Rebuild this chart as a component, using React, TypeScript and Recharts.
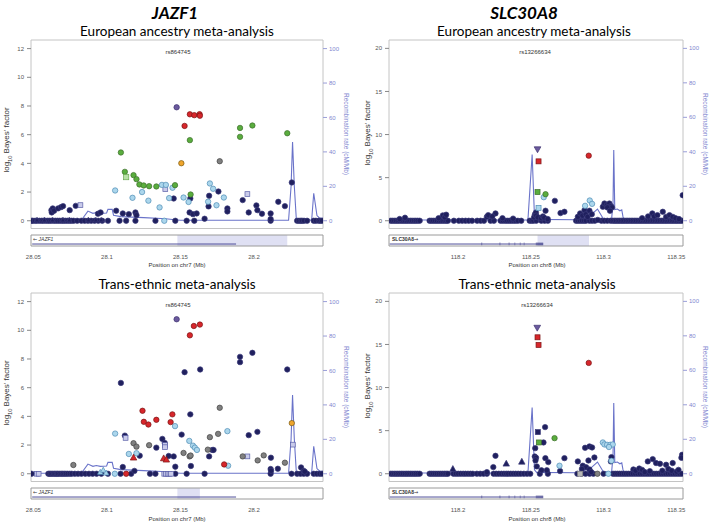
import React from 'react';
import { ComposedChart, Scatter, Line, XAxis, YAxis, ReferenceArea } from 'recharts';

type P = [number, number];

// ---------------- JAZF1 – European ancestry ----------------
const jEurLead: P[] = [[28.1474, 7.91]];
const jEurRed: P[] = [[28.1564, 7.42], [28.1594, 7.36], [28.163, 7.43], [28.1632, 7.32], [28.1528, 6.61]];
const jEurGreen: P[] = [[28.1564, 5.62], [28.1905, 6.47], [28.1989, 6.64], [28.1905, 5.85], [28.2226, 6.1], [28.1095, 4.76], [28.1122, 3.41], [28.1181, 3.18], [28.1201, 2.9], [28.1221, 2.53], [28.125, 2.46], [28.1287, 2.41], [28.1336, 2.39], [28.1463, 2.48], [28.1569, 1.83]];
const jEurGreenSq: P[] = [[28.1131, 3.04]];
const jEurOrange: P[] = [[28.1506, 4.01]];
const jEurGrey: P[] = [[28.1767, 4.15]];
const jEurLight: P[] = [[28.1056, 2.11], [28.1174, 1.6], [28.1239, 2.0], [28.1282, 1.4], [28.1374, 2.5], [28.1401, 2.5], [28.1446, 2.3], [28.1423, 1.58], [28.1358, 0.93], [28.1521, 1.62], [28.1555, 1.31], [28.17, 2.6], [28.1722, 2.23], [28.1688, 1.33], [28.1745, 1.08], [28.1795, 1.62], [28.139, 0]];
const jEurLav: P[] = [[28.082, 1.09], [28.1955, 1.86], [28.1397, 2.2]];
const jEurNavy: P[] = [[28.0623, 0.74], [28.0625, 0.58], [28.0632, 0.86], [28.0641, 0.7], [28.0668, 0.86], [28.0688, 0.95], [28.0702, 1.02], [28.0747, 0.74], [28.0788, 1.04], [28.0939, 0.49], [28.0957, 0.58], [28.1063, 0.7], [28.1108, 0.51], [28.1149, 0.46], [28.1194, 0.58], [28.1201, 0.39], [28.1454, 1.55], [28.1567, 1.55], [28.1562, 0.58], [28.1585, 0.46], [28.161, 0.51], [28.1664, 0.14], [28.1695, 1.74], [28.1691, 1.0], [28.1758, 2.04], [28.1819, 0.86], [28.1819, 0.65], [28.1923, 1.44], [28.1964, 0.58], [28.2016, 1.07], [28.2023, 0.74], [28.2054, 0.49], [28.2113, 0.51], [28.2113, 0.12], [28.2165, 1.32], [28.221, 1.02], [28.2257, 2.67]];
const jEurNavyZero: number[] = [28.0488, 28.0497, 28.0512, 28.0525, 28.0541, 28.0556, 28.0568, 28.0583, 28.0597, 28.0609, 28.0622, 28.0638, 28.0651, 28.0665, 28.0679, 28.0693, 28.0705, 28.0718, 28.0732, 28.0746, 28.0759, 28.0774, 28.0798, 28.0826, 28.0849, 28.0871, 28.0893, 28.0916, 28.0941, 28.0968, 28.1007, 28.1086, 28.1131, 28.1194, 28.133, 28.1465, 28.1542, 28.1594, 28.2113, 28.2293, 28.2306, 28.2318, 28.2327, 28.234, 28.2361, 28.2406, 28.2421, 28.244, 28.2452, 28.2463];
const jEurNavyTri: P[] = [[28.0525, 0.05], [28.0575, 0.05], [28.063, 0.05], [28.0701, 0.05], [28.0744, 0.05], [28.0875, 0.05], [28.0925, 0.05], [28.0961, 0.05]];

// ---------------- JAZF1 – Trans-ethnic ----------------
const jTrLead: P[] = [[28.1474, 10.77]];
const jTrRed: P[] = [[28.1591, 10.3], [28.1632, 10.4], [28.1564, 9.65], [28.1242, 4.39], [28.1336, 3.76], [28.1251, 3.62], [28.1282, 3.43], [28.1445, 4.14], [28.1433, 3.6], [28.1797, 0.65], [28.1131, 0]];
const jTrRedTri: P[] = [[28.1181, 1.12], [28.1386, 1.07], [28.1404, 0.98]];
const jTrNavy: P[] = [[28.1095, 6.33], [28.1528, 7.08], [28.1634, 7.27], [28.1905, 8.15], [28.1905, 7.78], [28.1989, 8.43], [28.2226, 7.27], [28.1567, 4.14], [28.1508, 2.73], [28.1377, 2.43], [28.1393, 2.15], [28.1336, 1.82], [28.1122, 2.66], [28.1223, 1.26], [28.142, 1.24], [28.1454, 1.21], [28.1465, 0.49], [28.1571, 0.54], [28.1695, 1.21], [28.1716, 1.66], [28.1725, 1.66], [28.1964, 2.69], [28.2023, 2.92], [28.2115, 1.12], [28.2113, 0.33], [28.2116, 0.21], [28.2162, 0.35], [28.232, 0.44], [28.2338, 0.2], [28.2345, 0.15], [28.1108, 0.47], [28.1187, 0.2]];
const jTrGrey: P[] = [[28.1767, 4.6], [28.0772, 0.61], [28.1181, 2.13], [28.1201, 1.89], [28.1287, 1.99], [28.1521, 1.45], [28.1562, 1.21], [28.1569, 1.27], [28.17, 2.55], [28.1756, 2.78], [28.1686, 1.68], [28.1923, 1.21], [28.2025, 0.93], [28.2066, 1.28], [28.221, 0.77]];
const jTrLight: P[] = [[28.1056, 2.8], [28.1463, 3.32], [28.156, 2.29], [28.1585, 1.96], [28.1598, 1.82], [28.1612, 1.66], [28.1819, 2.97], [28.1824, 0.56], [28.1149, 1.38], [28.1201, 1.43], [28.1054, 0]];
const jTrLightTri: P[] = [[28.0955, 0.1], [28.0975, 0.25], [28.0995, 0.05]];
const jTrOrange: P[] = [[28.2257, 3.53]];
const jTrLav: P[] = [[28.0525, 0], [28.0536, 0], [28.1127, 2.5], [28.1395, 2.0], [28.1395, 1.85], [28.1955, 1.21], [28.2264, 2.03], [28.139, 0], [28.1402, 0], [28.1413, 0], [28.1425, 0], [28.1436, 0]];
const jTrNavyZero: number[] = [28.0488, 28.0602, 28.0611, 28.062, 28.063, 28.0641, 28.065, 28.066, 28.0668, 28.0679, 28.069, 28.07, 28.0711, 28.0722, 28.0734, 28.0748, 28.0761, 28.0782, 28.0804, 28.0827, 28.0853, 28.0878, 28.0903, 28.093, 28.0962, 28.1007, 28.1093, 28.1165, 28.1293, 28.133, 28.1465, 28.1542, 28.1664, 28.2113, 28.2255, 28.2293, 28.2316, 28.2338, 28.2361, 28.2406, 28.2427, 28.2447, 28.2463];

// ---------------- SLC30A8 – European ancestry ----------------
const sEurLead: P[] = [[118.2546, 8.3]];
const sEurRedSq: P[] = [[118.2553, 6.89]];
const sEurRed: P[] = [[118.2898, 7.55]];
const sEurGreenSq: P[] = [[118.2546, 3.33]];
const sEurGreen: P[] = [[118.2601, 3.08]];
const sEurLight: P[] = [[118.2589, 2.73], [118.2873, 1.73], [118.2905, 2.35], [118.2921, 1.96]];
const sEurLightSq: P[] = [[118.2553, 1.48]];
const sEurNavy: P[] = [[118.1635, 0.35], [118.1598, 0.2], [118.1866, 0.3], [118.1895, 0.62], [118.1908, 0.4], [118.1918, 0.7], [118.2198, 0.46], [118.2207, 0.65], [118.2257, 0.85], [118.2235, 0.5], [118.2305, 0.3], [118.2378, 0.25], [118.2522, 0.4], [118.2528, 0.73], [118.2535, 0.95], [118.2537, 0.6], [118.2548, 0.4], [118.2571, 0.3], [118.2583, 0.5], [118.2592, 0.35], [118.2601, 1.16], [118.2616, 0.2], [118.2665, 2.31], [118.2704, 0.89], [118.2731, 1.04], [118.2823, 0.46], [118.2839, 0.85], [118.2855, 0.6], [118.2869, 1.23], [118.2878, 0.75], [118.289, 0.45], [118.2903, 1.16], [118.2919, 0.75], [118.296, 0.1], [118.2995, 1.62], [118.3006, 2.0], [118.3022, 1.8], [118.304, 2.0], [118.3051, 1.7], [118.3058, 1.55], [118.3026, 1.55], [118.3044, 1.16], [118.3335, 0.85], [118.3347, 0.5], [118.337, 0.65], [118.3407, 1.04], [118.343, 0.45], [118.3453, 0.65], [118.3476, 0.45], [118.3544, 2.96], [118.3265, 0.3], [118.3306, 0.5], [118.3495, 0.3], [118.3518, 0.2]];
const sEurNavyZero: number[] = [118.1536, 118.1548, 118.1561, 118.1573, 118.1585, 118.1597, 118.161, 118.1622, 118.1635, 118.1647, 118.1659, 118.1672, 118.1684, 118.1697, 118.1709, 118.1722, 118.1736, 118.1804, 118.1816, 118.1829, 118.1842, 118.1855, 118.1868, 118.1881, 118.1894, 118.1907, 118.1919, 118.193, 118.1971, 118.2005, 118.2028, 118.2051, 118.2073, 118.2096, 118.2131, 118.2155, 118.2178, 118.2223, 118.2246, 118.2292, 118.2308, 118.2324, 118.2338, 118.2352, 118.2366, 118.2381, 118.2395, 118.2411, 118.2434, 118.2492, 118.2505, 118.2518, 118.2537, 118.2572, 118.2595, 118.2617, 118.2811, 118.2824, 118.2838, 118.2852, 118.2866, 118.2879, 118.2903, 118.2921, 118.294, 118.2985, 118.3005, 118.3026, 118.3048, 118.3063, 118.3075, 118.3086, 118.3098, 118.3109, 118.3121, 118.3132, 118.3143, 118.3155, 118.3166, 118.3178, 118.319, 118.3201, 118.3213, 118.3224, 118.3236, 118.3248, 118.3259, 118.3271, 118.3283, 118.3294, 118.3306, 118.3318, 118.333, 118.3341, 118.3353, 118.3365, 118.3376, 118.3388, 118.34, 118.3411, 118.3423, 118.3434, 118.3446, 118.3458, 118.347, 118.3481, 118.3493, 118.3504, 118.3516, 118.3528, 118.354];

// ---------------- SLC30A8 – Trans-ethnic ----------------
const sTrLead: P[] = [[118.2544, 16.95]];
const sTrRedSq: P[] = [[118.2546, 15.83], [118.2553, 14.94]];
const sTrRed: P[] = [[118.2898, 12.86]];
const sTrGreenSq: P[] = [[118.2555, 3.63]];
const sTrGreen: P[] = [[118.2663, 4.13]];
const sTrNavySq: P[] = [[118.2548, 4.83]];
const sTrNavy: P[] = [[118.2598, 5.41], [118.2587, 3.63], [118.253, 2.97], [118.2527, 2.0], [118.2536, 1.85], [118.2532, 1.55], [118.26, 1.81], [118.262, 1.35], [118.2541, 0.85], [118.2573, 0.4], [118.261, 0.4], [118.2731, 1.81], [118.2701, 0.31], [118.2257, 2.08], [118.2242, 0.77], [118.2198, 0.19], [118.2823, 1.43], [118.2873, 3.01], [118.2903, 3.17], [118.2921, 3.05], [118.2896, 1.54], [118.2937, 1.89], [118.2857, 0.93], [118.288, 0.75], [118.2851, 0.55], [118.2903, 0.5], [118.2915, 0.2], [118.3054, 1.93], [118.305, 1.43], [118.3304, 1.43], [118.3338, 1.7], [118.3361, 1.24], [118.3388, 1.16], [118.343, 1.04], [118.3475, 1.24], [118.354, 2.2], [118.3535, 1.85], [118.3205, 0.5], [118.322, 0.35], [118.3245, 0.6], [118.3265, 0.45], [118.3283, 0.2], [118.3318, 0.3], [118.3404, 0.35], [118.3445, 0.55], [118.3468, 0.35], [118.3502, 0.25], [118.3515, 0.45]];
const sTrNavyTri: P[] = [[118.2331, 1.16], [118.2438, 1.39], [118.1964, 0.54]];
const sTrLight: P[] = [[118.2995, 3.63], [118.3006, 3.4], [118.3024, 3.36], [118.3046, 3.36], [118.3063, 3.4], [118.3037, 3.1], [118.2697, 0.93], [118.3054, 1.5], [118.3033, 0]];
const sTrGreySq: P[] = [[118.2839, 0]];
const sTrGrey: P[] = [[118.2958, 0]];
const sTrNavyZero: number[] = [118.1536, 118.1548, 118.1561, 118.1573, 118.1585, 118.1597, 118.161, 118.1622, 118.1635, 118.1647, 118.1659, 118.1672, 118.1684, 118.1697, 118.1709, 118.1722, 118.1736, 118.1804, 118.1816, 118.1829, 118.1842, 118.1855, 118.1868, 118.1881, 118.1894, 118.1907, 118.1919, 118.193, 118.1968, 118.1985, 118.2001, 118.2018, 118.2035, 118.2051, 118.2068, 118.2085, 118.2101, 118.2129, 118.2152, 118.2175, 118.2198, 118.2244, 118.2262, 118.228, 118.2298, 118.2315, 118.2331, 118.2345, 118.2362, 118.2379, 118.2396, 118.2413, 118.2431, 118.2452, 118.2474, 118.2496, 118.2562, 118.2617, 118.282, 118.2848, 118.2876, 118.2904, 118.293, 118.3, 118.3065, 118.308, 118.3095, 118.311, 118.3125, 118.314, 118.3155, 118.317, 118.3186, 118.3202, 118.3218, 118.3234, 118.325, 118.3266, 118.3282, 118.3298, 118.3314, 118.333, 118.3346, 118.3362, 118.3378, 118.3394, 118.341, 118.3426, 118.3442, 118.3458, 118.3474, 118.349, 118.3506, 118.3522, 118.3538];

// ---------------- Recombination rate (cM/Mb) ----------------
const jazfRecomb: P[] = [[28.0484, 0.3], [28.0826, 0.3], [28.0871, 5.6], [28.0905, 4.3], [28.0928, 4.8], [28.0955, 4.3], [28.0998, 4.5], [28.1007, 6.6], [28.1036, 6.6], [28.1045, 3.2], [28.1095, 2.4], [28.125, 1.8], [28.14, 1.2], [28.146, 0.6], [28.15, 0.3], [28.2235, 0.3], [28.2252, 20], [28.2262, 45.8], [28.2274, 20], [28.2288, 0.4], [28.2392, 0.4], [28.2406, 16], [28.2428, 3], [28.2445, 1.6], [28.2469, 1.4]];
const slcRecomb: P[] = [[118.1525, 0.4], [118.248, 0.4], [118.2509, 38.4], [118.2525, 2.3], [118.254, 0.8], [118.281, 0.6], [118.2845, 1.5], [118.2912, 3.3], [118.2958, 6.8], [118.2997, 1.3], [118.3055, 0.8], [118.3065, 10], [118.307, 41], [118.3077, 6.5], [118.3095, 6.8], [118.3112, 5.8], [118.3125, 6.3], [118.3133, 2.5], [118.314, 0.5], [118.3546, 0.4]];

// ---------------- Axes / gene tracks ----------------
const jazfXTicks = [28.05, 28.1, 28.15, 28.2];
const slcXTicks = [118.2, 118.25, 118.3, 118.35];
const jazfYTicks = [0, 2, 4, 6, 8, 10, 12];
const slcYTicks = [0, 5, 10, 15, 20];
const recombTicks = [0, 20, 40, 60, 80, 100];
const jazfGene: P = [28.0492, 28.1878];
const slcGene: P = [118.153, 118.2585];
const slcExons: P[] = [[118.2159, 118.2166], [118.2284, 118.2291], [118.2347, 118.2354], [118.2387, 118.2393], [118.2424, 118.243], [118.2451, 118.2457], [118.2534, 118.2585]];
const jazfEurHL: P = [28.1479, 28.2226];
const jazfTrHL: P = [28.1479, 28.1632];
const slcEurHL: P = [118.2546, 118.29];

// ---------------- styling ----------------
const NAVY = '#20205e';
const RED = '#d7262b';
const GREEN = '#5aad3e';
const LIGHT = '#abd6ec';
const ORANGE = '#efa52d';
const GREY = '#808080';
const LEAD = '#6b5a9e';
const LAV = '#c9cbea';
const RECOMB = '#6a73c9';

type Kind = 'circle' | 'square' | 'tri' | 'itri';
type Series = { data: P[]; kind: Kind; fill: string; stroke: string; r?: number };

const makeShape = (kind: Kind, fill: string, stroke: string, r: number) => (props: any) => {
  const { cx, cy } = props;
  if (cx == null || cy == null || isNaN(cx) || isNaN(cy)) return <g />;
  const sw = 0.7;
  if (kind === 'square') return <rect x={cx - r} y={cy - r} width={2 * r} height={2 * r} fill={fill} stroke={stroke} strokeWidth={sw} />;
  if (kind === 'tri') return <polygon points={`${cx},${cy - r * 1.25} ${cx - r * 1.15},${cy + r * 0.85} ${cx + r * 1.15},${cy + r * 0.85}`} fill={fill} stroke={stroke} strokeWidth={sw} />;
  if (kind === 'itri') return <polygon points={`${cx},${cy + r * 1.25} ${cx - r * 1.2},${cy - r * 0.85} ${cx + r * 1.2},${cy - r * 0.85}`} fill={fill} stroke={stroke} strokeWidth={sw} />;
  return <circle cx={cx} cy={cy} r={r} fill={fill} stroke={stroke} strokeWidth={sw} />;
};

const zeros = (xs: number[]): P[] => xs.map((x) => [x, 0]);
const toObj = (d: P[]) => d.map(([x, y]) => ({ x, y }));

type PanelProps = {
  left: number; top: number; leftW: number; rightW: number;
  xDomain: P; yDomain: P; yTicks: number[]; xTicks: number[];
  recomb: P[]; series: Series[]; gene: P; exons: P[]; hl?: P;
};

function Panel(p: PanelProps) {
  const k = 100 / p.yTicks[p.yTicks.length - 1];
  const rDomain: P = [p.yDomain[0] * k, p.yDomain[1] * k];
  const recombData = p.recomb.map(([x, rate]) => ({ x, rate }));
  const geneData = [{ x: p.gene[0], g: 0.18 }, { x: p.gene[1], g: 0.18 }];
  const tickStyle = { fontSize: 6, fill: '#555', fontFamily: 'Liberation Sans, Arial, sans-serif' };
  return (
    <>
      <div style={{ position: 'absolute', left: p.left, top: p.top }}>
        <ComposedChart width={357} height={233} margin={{ top: 40, right: 0, bottom: 4.5, left: 0 }}>
          <XAxis xAxisId={0} type="number" dataKey="x" domain={p.xDomain} allowDataOverflow hide />
          <YAxis yAxisId="left" type="number" dataKey="y" domain={p.yDomain} allowDataOverflow ticks={p.yTicks} interval={0}
            width={p.leftW} axisLine={false} tickSize={4} tickMargin={3} tick={tickStyle} tickLine={{ stroke: '#888' }} />
          <YAxis yAxisId="right" orientation="right" type="number" domain={rDomain} allowDataOverflow ticks={recombTicks} interval={0}
            width={p.rightW} axisLine={false} tickSize={4} tickMargin={2} tick={{ ...tickStyle, fill: '#8287d0' }} tickLine={{ stroke: '#9a9ed8' }} />
          <ReferenceArea yAxisId="left" x1={p.xDomain[0]} x2={p.xDomain[1]} y1={p.yDomain[0]} y2={p.yDomain[1]} fill="none" stroke="#c4c4c4" ifOverflow="visible" />
          <Line yAxisId="right" data={recombData} dataKey="rate" type="linear" dot={false} stroke={RECOMB} strokeWidth={1.1} isAnimationActive={false} />
          {p.series.map((s, i) => (
            <Scatter key={i} yAxisId="left" data={toObj(s.data)} dataKey="y" isAnimationActive={false}
              shape={makeShape(s.kind, s.fill, s.stroke, s.r ?? 2.7)} />
          ))}
        </ComposedChart>
      </div>
      <div style={{ position: 'absolute', left: p.left, top: p.top + 233 }}>
        <ComposedChart width={357} height={37} margin={{ top: 2, right: p.rightW, bottom: 0, left: p.leftW }}>
          <XAxis type="number" dataKey="x" domain={p.xDomain} allowDataOverflow ticks={p.xTicks} interval={0}
            tickFormatter={(v: number) => String(v)} axisLine={false} tickLine={false} tickSize={0} tickMargin={9} height={24} tick={tickStyle} />
          <YAxis type="number" domain={[0, 1]} allowDataOverflow hide />
          {p.hl && <ReferenceArea x1={p.hl[0]} x2={p.hl[1]} y1={0} y2={1} fill="#d9daf1" fillOpacity={0.85} stroke="none" ifOverflow="visible" />}
          <ReferenceArea x1={p.xDomain[0]} x2={p.xDomain[1]} y1={0} y2={1} fill="none" stroke="#9a9a9a" ifOverflow="visible" />
          <Line data={geneData} dataKey="g" dot={false} stroke="#3a3a8c" strokeWidth={0.9} isAnimationActive={false} />
          {p.exons.map((e, i) => (
            <ReferenceArea key={i} x1={e[0]} x2={e[1]} y1={0.06} y2={0.32} fill="#2b2b7a" stroke="none" ifOverflow="visible" />
          ))}
        </ComposedChart>
      </div>
    </>
  );
}

const jazfSeries = (navy: P[], navyZero: number[], extra: Series[]): Series[] => [
  { data: zeros(navyZero), kind: 'circle', fill: NAVY, stroke: '#3b3b7a' },
  { data: navy, kind: 'circle', fill: NAVY, stroke: '#3b3b7a' },
  ...extra,
];

const p1Series: Series[] = jazfSeries(jEurNavy, jEurNavyZero, [
  { data: jEurNavyTri, kind: 'tri', fill: NAVY, stroke: '#3b3b7a', r: 2.2 },
  { data: jEurLav, kind: 'square', fill: LAV, stroke: '#5a5fa8', r: 2.4 },
  { data: jEurLight, kind: 'circle', fill: LIGHT, stroke: '#4f8db5' },
  { data: jEurGrey, kind: 'circle', fill: GREY, stroke: '#444' },
  { data: jEurOrange, kind: 'circle', fill: ORANGE, stroke: '#7a5a10' },
  { data: jEurGreen, kind: 'circle', fill: GREEN, stroke: '#3e6e2c' },
  { data: jEurGreenSq, kind: 'square', fill: '#b9e0a8', stroke: '#6aa84f', r: 2.6 },
  { data: jEurRed, kind: 'circle', fill: RED, stroke: '#7a1515' },
  { data: jEurLead, kind: 'circle', fill: LEAD, stroke: '#3f3370' },
]);

const p3Series: Series[] = jazfSeries(jTrNavy, jTrNavyZero, [
  { data: jTrLav, kind: 'square', fill: LAV, stroke: '#5a5fa8', r: 2.4 },
  { data: jTrLightTri, kind: 'tri', fill: LIGHT, stroke: '#4f8db5', r: 2.4 },
  { data: jTrGrey, kind: 'circle', fill: GREY, stroke: '#444' },
  { data: jTrLight, kind: 'circle', fill: LIGHT, stroke: '#4f8db5' },
  { data: jTrOrange, kind: 'circle', fill: ORANGE, stroke: '#7a5a10' },
  { data: jTrRedTri, kind: 'tri', fill: RED, stroke: '#7a1515', r: 2.8 },
  { data: jTrRed, kind: 'circle', fill: RED, stroke: '#7a1515' },
  { data: jTrLead, kind: 'circle', fill: LEAD, stroke: '#3f3370' },
]);

const p2Series: Series[] = [
  { data: zeros(sEurNavyZero), kind: 'circle', fill: NAVY, stroke: '#3b3b7a' },
  { data: sEurNavy, kind: 'circle', fill: NAVY, stroke: '#3b3b7a' },
  { data: sEurLight, kind: 'circle', fill: LIGHT, stroke: '#4f8db5' },
  { data: sEurLightSq, kind: 'square', fill: LIGHT, stroke: '#4f8db5', r: 2.5 },
  { data: sEurGreen, kind: 'circle', fill: GREEN, stroke: '#3e6e2c' },
  { data: sEurGreenSq, kind: 'square', fill: GREEN, stroke: '#3e6e2c', r: 2.5 },
  { data: sEurRed, kind: 'circle', fill: RED, stroke: '#7a1515' },
  { data: sEurRedSq, kind: 'square', fill: RED, stroke: '#7a1515', r: 2.5 },
  { data: sEurLead, kind: 'itri', fill: LEAD, stroke: '#3f3370', r: 2.8 },
];

const p4Series: Series[] = [
  { data: zeros(sTrNavyZero), kind: 'circle', fill: NAVY, stroke: '#3b3b7a' },
  { data: sTrNavy, kind: 'circle', fill: NAVY, stroke: '#3b3b7a' },
  { data: sTrNavyTri, kind: 'tri', fill: NAVY, stroke: '#3b3b7a', r: 2.8 },
  { data: sTrNavySq, kind: 'square', fill: NAVY, stroke: '#3b3b7a', r: 2.5 },
  { data: sTrGreySq, kind: 'square', fill: '#b8b8b8', stroke: '#888', r: 2.5 },
  { data: sTrGrey, kind: 'circle', fill: GREY, stroke: '#444' },
  { data: sTrLight, kind: 'circle', fill: LIGHT, stroke: '#4f8db5' },
  { data: sTrGreen, kind: 'circle', fill: GREEN, stroke: '#3e6e2c' },
  { data: sTrGreenSq, kind: 'square', fill: GREEN, stroke: '#3e6e2c', r: 2.5 },
  { data: sTrRed, kind: 'circle', fill: RED, stroke: '#7a1515' },
  { data: sTrRedSq, kind: 'square', fill: RED, stroke: '#7a1515', r: 2.5 },
  { data: sTrLead, kind: 'itri', fill: LEAD, stroke: '#3f3370', r: 2.8 },
];

const jazfX: P = [28.0484, 28.2469];
const slcX: P = [118.1525, 118.3546];
const jazfY: P = [-0.54, 12.6];
const slcY: P = [-0.9, 20.97];

const T = ({ x, y, children, style, rot }: { x: number; y: number; children: React.ReactNode; style?: React.CSSProperties; rot?: number }) => (
  <div style={{ position: 'absolute', left: x, top: y, transform: `translate(-50%,-50%)${rot ? ` rotate(${rot}deg)` : ''}`, whiteSpace: 'nowrap', lineHeight: 1, ...style }}>{children}</div>
);

const TITLE: React.CSSProperties = { fontFamily: 'Lato, "Open Sans", sans-serif', fontSize: 13.5, color: '#000' };
const SMALL: React.CSSProperties = { fontFamily: 'Liberation Sans, Arial, sans-serif', fontSize: 6, color: '#333' };
const YLAB: React.CSSProperties = { fontFamily: 'Liberation Sans, Arial, sans-serif', fontSize: 8, color: '#333' };
const RLAB: React.CSSProperties = { fontFamily: 'Liberation Sans, Arial, sans-serif', fontSize: 6.5, color: '#8287d0' };
const ARROW: React.CSSProperties = { fontFamily: '"DejaVu Sans", sans-serif', fontStyle: 'normal', fontWeight: 400 };

const YLabel = () => <span>log<sub style={{ fontSize: '70%' }}>10</sub> Bayes' factor</span>;
const JazfLabel = () => <span><span style={ARROW}>←</span> JAZF1</span>;
const SlcLabel = () => <span>SLC30A8<span style={ARROW}>→</span></span>;

export default function App() {
  return (
    <div style={{ position: 'absolute', left: 0, top: 0, width: 714, height: 530, background: '#fff', overflow: 'hidden' }}>
      <Panel left={0} top={0} leftW={31} rightW={34} xDomain={jazfX} yDomain={jazfY} yTicks={jazfYTicks} xTicks={jazfXTicks}
        recomb={jazfRecomb} series={p1Series} gene={jazfGene} exons={[]} hl={jazfEurHL} />
      <Panel left={357} top={0} leftW={32} rightW={31} xDomain={slcX} yDomain={slcY} yTicks={slcYTicks} xTicks={slcXTicks}
        recomb={slcRecomb} series={p2Series} gene={slcGene} exons={slcExons} hl={slcEurHL} />
      <Panel left={0} top={253} leftW={31} rightW={34} xDomain={jazfX} yDomain={jazfY} yTicks={jazfYTicks} xTicks={jazfXTicks}
        recomb={jazfRecomb} series={p3Series} gene={jazfGene} exons={[]} hl={jazfTrHL} />
      <Panel left={357} top={253} leftW={32} rightW={31} xDomain={slcX} yDomain={slcY} yTicks={slcYTicks} xTicks={slcXTicks}
        recomb={slcRecomb} series={p4Series} gene={slcGene} exons={slcExons} />

      <T x={175} y={12} style={{ ...TITLE, fontSize: 17, fontWeight: 700, fontStyle: 'italic' }}>JAZF1</T>
      <T x={524} y={12} style={{ ...TITLE, fontSize: 17, fontWeight: 700, fontStyle: 'italic' }}>SLC30A8</T>
      <T x={177} y={32} style={TITLE}>European ancestry meta-analysis</T>
      <T x={534} y={32} style={TITLE}>European ancestry meta-analysis</T>
      <T x={177} y={285} style={TITLE}>Trans-ethnic meta-analysis</T>
      <T x={537} y={285} style={TITLE}>Trans-ethnic meta-analysis</T>

      <T x={178} y={52} style={SMALL}>rs864745</T>
      <T x={535} y={52} style={SMALL}>rs13266634</T>
      <T x={178} y={305} style={SMALL}>rs864745</T>
      <T x={537} y={305} style={SMALL}>rs13266634</T>

      <T x={8} y={140} rot={-90} style={YLAB}><YLabel /></T>
      <T x={369} y={133} rot={-90} style={YLAB}><YLabel /></T>
      <T x={8} y={393} rot={-90} style={YLAB}><YLabel /></T>
      <T x={369} y={386} rot={-90} style={YLAB}><YLabel /></T>

      <T x={345.5} y={134} rot={90} style={RLAB}>Recombination rate (cM/Mb)</T>
      <T x={705} y={134} rot={90} style={RLAB}>Recombination rate (cM/Mb)</T>
      <T x={345.5} y={387} rot={90} style={RLAB}>Recombination rate (cM/Mb)</T>
      <T x={705} y={387} rot={90} style={RLAB}>Recombination rate (cM/Mb)</T>

      <T x={177} y={265} style={SMALL}>Position on chr7 (Mb)</T>
      <T x={537} y={265} style={SMALL}>Position on chr8 (Mb)</T>
      <T x={177} y={519} style={SMALL}>Position on chr7 (Mb)</T>
      <T x={537} y={519} style={SMALL}>Position on chr8 (Mb)</T>

      <div style={{ position: 'absolute', left: 33, top: 236.5, ...SMALL, fontSize: 5, fontStyle: 'italic', lineHeight: 1 }}><JazfLabel /></div>
      <div style={{ position: 'absolute', left: 33, top: 489.5, ...SMALL, fontSize: 5, fontStyle: 'italic', lineHeight: 1 }}><JazfLabel /></div>
      <div style={{ position: 'absolute', left: 392, top: 236.5, ...SMALL, fontSize: 5, fontWeight: 700, lineHeight: 1 }}><SlcLabel /></div>
      <div style={{ position: 'absolute', left: 392, top: 489.5, ...SMALL, fontSize: 5, fontWeight: 700, lineHeight: 1 }}><SlcLabel /></div>
    </div>
  );
}
